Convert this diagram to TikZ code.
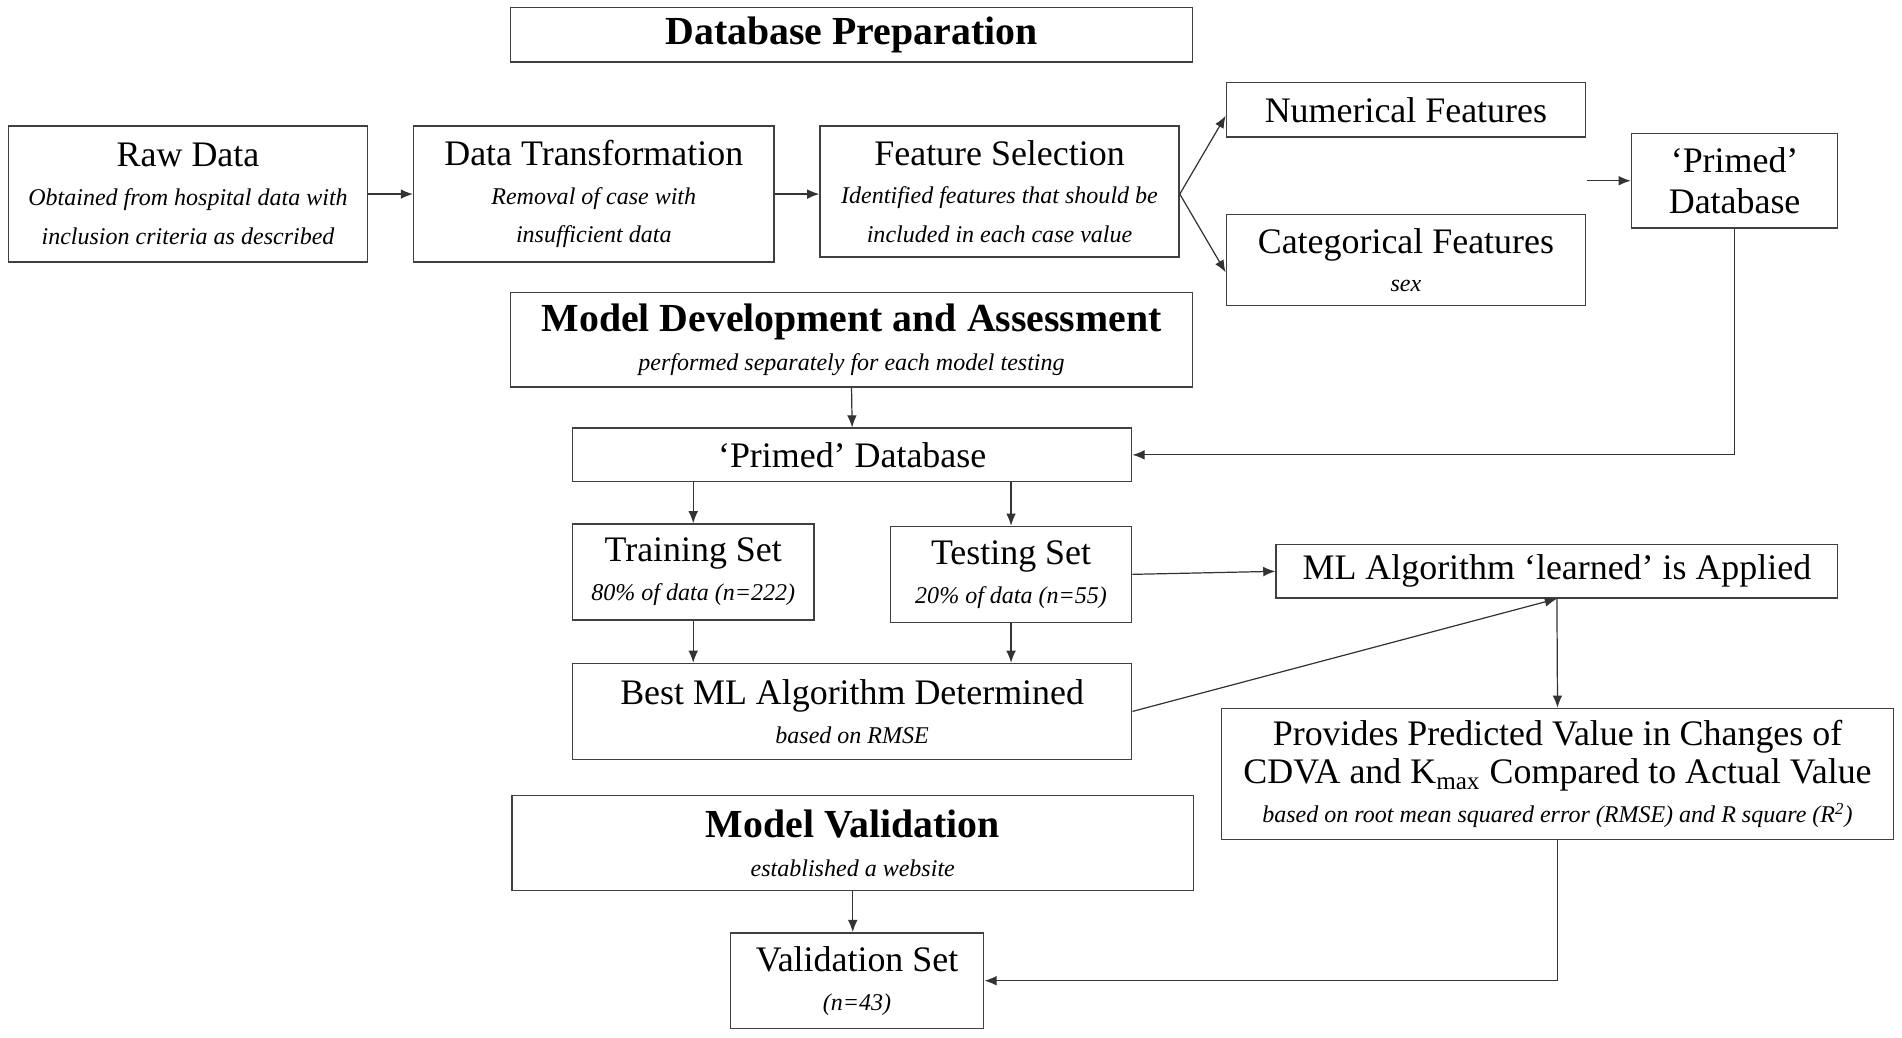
\documentclass[tikz,border=0pt]{standalone}
\usepackage{fontspec}
\setmainfont{Liberation Serif}
\usetikzlibrary{arrows.meta}

\newcommand{\hd}{\fontsize{16.4}{18}\selectfont\bfseries}
\newcommand{\sub}{\fontsize{9.9}{12}\selectfont\itshape}

\begin{document}
\begin{tikzpicture}
  [x=0.5pt,y=-0.5pt,
   every node/.style={draw=black!75,line width=0.6pt,inner sep=0pt,align=center,
     font=\fontsize{14.8}{16}\selectfont},
   arr/.style={draw=black!80,line width=0.5pt,-{Latex[length=5pt,width=4pt]}}]
  \useasboundingbox (0,0) rectangle (1568,855);

  % database preparation
  \node[minimum width=281pt,minimum height=22.5pt] (dbprep) at (702,28.5) {\hd Database Preparation};
  \node[minimum width=148pt,minimum height=56pt] (raw) at (155,160)
    {Raw Data\\\sub Obtained from hospital data with\\\sub inclusion criteria as described};
  \node[minimum width=148.5pt,minimum height=56pt] (trans) at (489.5,160)
    {Data Transformation\\\sub Removal of case with\\\sub insufficient data};
  \node[minimum width=148pt,minimum height=54pt] (featsel) at (824,158)
    {Feature Selection\\\sub Identified features that should be\\\sub included in each case value};
  \node[minimum width=148pt,minimum height=22.5pt] (numfeat) at (1159,90.5) {Numerical Features};
  \node[minimum width=148pt,minimum height=37.5pt] (catfeat) at (1159,214.5)
    {Categorical Features\\\sub sex};
  \node[minimum width=85pt,minimum height=39pt] (primedR) at (1430,149)
    {`Primed'\\[1pt]Database};
  \coordinate (featout) at (1308,149);

  % model development and assessment
  \node[minimum width=281pt,minimum height=39pt] (mdev) at (702,280)
    {\hd Model Development and Assessment\\\sub performed separately for each model testing};
  \node[minimum width=230.5pt,minimum height=22pt] (primedM) at (702.5,375) {`Primed' Database};
  \node[minimum width=99.5pt,minimum height=39.5pt] (train) at (571.5,471.5)
    {Training Set\\\sub 80\% of data (n=222)};
  \node[minimum width=99.5pt,minimum height=39.5pt] (test) at (833.5,473.5)
    {Testing Set\\\sub 20\% of data (n=55)};
  \node[minimum width=230.5pt,minimum height=39.5pt] (best) at (702.5,586.5)
    {Best ML Algorithm Determined\\\sub based on RMSE};
  \node[minimum width=231.5pt,minimum height=22pt] (learned) at (1283.5,471)
    {ML Algorithm `learned' is Applied};
  \node[minimum width=277pt,minimum height=54pt] (provides) at (1284,638)
    {Provides Predicted Value in Changes of\\
     CDVA and K\textsubscript{max} Compared to Actual Value\\
     \sub based on root mean squared error (RMSE) and R square (R\textsuperscript{2})};

  % model validation
  \node[minimum width=281pt,minimum height=39pt] (mval) at (703,695)
    {\hd Model Validation\\\sub established a website};
  \node[minimum width=104.5pt,minimum height=39.5pt] (valset) at (706.5,808.5)
    {Validation Set\\\sub (n=43)};

  \draw[arr] (raw.east) -- (trans.west);
  \draw[arr] (trans.east) -- (trans.east -| featsel.west);
  \draw[arr] (featsel.east |- trans.east) -- ([yshift=-2.5pt]numfeat.west);
  \draw[arr] (featsel.east |- trans.east) -- ([yshift=-5pt]catfeat.west);
  \draw[arr] (featout) -- (primedR.west);
  \draw[arr] (mdev.south) -- (primedM.north);
  \draw[arr] (primedR.south) |- (primedM.east);
  \foreach \to in {train,test}
    \draw[arr] (primedM.south -| \to.north) -- (\to.north);
  \foreach \from in {train,test}
    \draw[arr] (\from.south) -- (\from.south |- best.north);
  \draw[arr] (test.east) -- (learned.west);
  \draw[arr] (best.east) -- (learned.south);
  \draw[arr] (learned.south) -- (provides.north);
  \draw[arr] (mval.south) -- (mval.south |- valset.north);
  \draw[arr] (provides.south) |- (valset.east);

\end{tikzpicture}
\end{document}
